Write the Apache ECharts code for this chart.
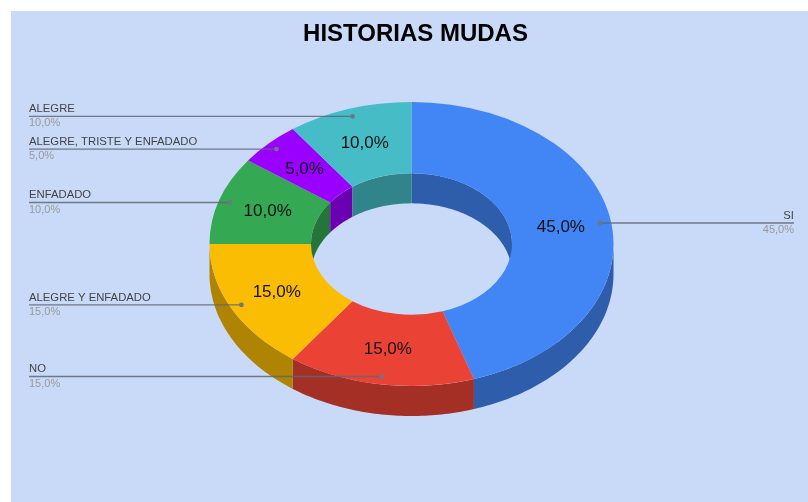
<!DOCTYPE html>
<html>
<head>
<meta charset="utf-8">
<title>HISTORIAS MUDAS</title>
<script src="https://cdn.jsdelivr.net/npm/echarts@6/dist/echarts.min.js"></script>
<style>
  html, body { margin: 0; padding: 0; background: #fff; }
  #chart { width: 808px; height: 502px; }
</style>
</head>
<body>
<div id="chart"></div>
<script>
var categories = ["SI", "NO", "ALEGRE Y ENFADADO", "ENFADADO", "ALEGRE, TRISTE Y ENFADADO", "ALEGRE"];
var shares = [45, 15, 15, 10, 5, 10];
var sliceColors = ["#4285f4", "#ea4335", "#fbbc04", "#34a853", "#9900ff", "#46bdc6"];
var wallColors = ["#2e5dab", "#a32f25", "#af8403", "#247539", "#6b00b2", "#318489"];

var cx = 411.5, cy = 244, outerR = 202, innerR = 100.5, squash = 0.703, depth = 30;
var fontName = '"Liberation Sans", Arial, sans-serif';
var total = shares.reduce(function (a, b) { return a + b; }, 0);

// angles run clockwise from 12 o'clock, in radians
function sliceAngles(index) {
  var before = 0;
  for (var i = 0; i < index; i++) before += shares[i];
  return [before / total * Math.PI * 2, (before + shares[index]) / total * Math.PI * 2];
}

function ringPoint(r, angle, drop) {
  return [cx + r * Math.sin(angle), cy - r * squash * Math.cos(angle) + (drop || 0)];
}

function wallPoints(r, from, to) {
  if (to <= from) return null;
  var pts = [], steps = Math.max(2, Math.ceil((to - from) * 60)), i;
  for (i = 0; i <= steps; i++) pts.push(ringPoint(r, from + (to - from) * i / steps, 0));
  for (i = steps; i >= 0; i--) pts.push(ringPoint(r, from + (to - from) * i / steps, depth));
  return pts;
}

function renderWalls(params, api) {
  var idx = params.dataIndex, a = sliceAngles(idx), PI = Math.PI, kids = [];
  var outer = wallPoints(outerR, Math.max(a[0], PI / 2), Math.min(a[1], PI * 1.5));
  if (outer) kids.push({ type: "polygon", shape: { points: outer }, style: { fill: wallColors[idx] } });
  // the back of the hole shows on both sides of 12 o'clock
  [[a[0], Math.min(a[1], PI / 2)], [Math.max(a[0], PI * 1.5), a[1]]].forEach(function (r) {
    var inner = wallPoints(innerR, r[0], r[1]);
    if (inner) kids.push({ type: "polygon", shape: { points: inner }, style: { fill: wallColors[idx] } });
  });
  return { type: "group", children: kids };
}

function renderTop(params, api) {
  var idx = params.dataIndex, a = sliceAngles(idx);
  return {
    type: "sector",
    x: cx, y: cy, scaleY: squash,
    shape: {
      cx: 0, cy: 0, r: outerR, r0: innerR,
      startAngle: a[0] - Math.PI / 2, endAngle: a[1] - Math.PI / 2, clockwise: true
    },
    style: { fill: sliceColors[idx] }
  };
}

function renderLabels(params, api) {
  var idx = params.dataIndex, a = sliceAngles(idx), mid = (a[0] + a[1]) / 2;
  var pct = api.value(0).toFixed(1).replace(".", ",") + "%";
  var onRight = Math.sin(mid) > 0;
  var dot = ringPoint(outerR * 0.945, mid, 0);
  var centre = ringPoint((outerR + innerR) / 2, mid, 0);
  var edge = onRight ? 794 : 29;
  var anchor = onRight ? "right" : "left";
  return {
    type: "group",
    children: [
      {
        type: "text",
        style: { x: centre[0], y: centre[1], text: pct, fill: "#111", fontSize: 17, fontFamily: fontName, align: "center", verticalAlign: "middle" }
      },
      {
        type: "line",
        shape: { x1: dot[0], y1: dot[1], x2: edge, y2: dot[1] },
        style: { stroke: "#5f6672", lineWidth: 1.4, opacity: 0.85 }
      },
      {
        type: "circle",
        shape: { cx: dot[0], cy: dot[1], r: 2.4 },
        style: { fill: "#6f7682" }
      },
      {
        type: "text",
        style: { x: edge, y: dot[1] - 7.5, text: categories[idx], fill: "#444", fontSize: 11.3, fontFamily: fontName, align: anchor, verticalAlign: "middle" }
      },
      {
        type: "text",
        style: { x: edge, y: dot[1] + 7, text: pct, fill: "#999", fontSize: 11, fontFamily: fontName, align: anchor, verticalAlign: "middle" }
      }
    ]
  };
}

var chartData = shares.map(function (v) { return [v]; });
var myChart = echarts.init(document.getElementById("chart"), null, { renderer: "canvas" });
myChart.setOption({
  backgroundColor: "#fff",
  animation: false,
  title: {
    text: "HISTORIAS MUDAS",
    left: 410.5, top: 17, textAlign: "center",
    textStyle: { fontFamily: fontName, fontWeight: "bold", fontSize: 24, color: "#000" }
  },
  graphic: [{
    type: "rect", z: -10, silent: true,
    shape: { x: 11, y: 11, width: 797, height: 491 },
    style: { fill: "#c9daf8" }
  }],
  series: [
    { type: "custom", coordinateSystem: "none", z: 1, silent: true, data: chartData, renderItem: renderWalls },
    { type: "custom", coordinateSystem: "none", z: 2, silent: true, data: chartData, renderItem: renderTop },
    { type: "custom", coordinateSystem: "none", z: 3, silent: true, data: chartData, renderItem: renderLabels }
  ]
});
</script>
</body>
</html>
